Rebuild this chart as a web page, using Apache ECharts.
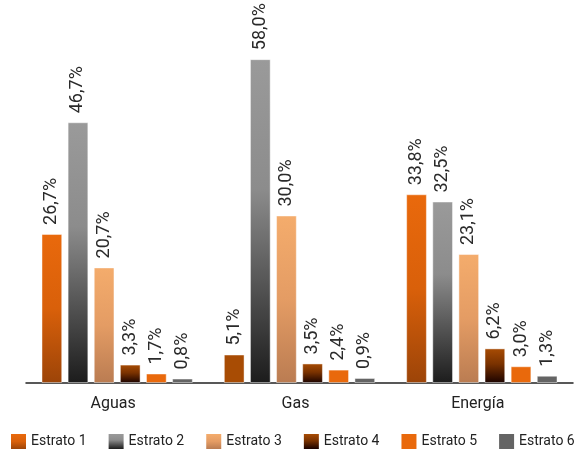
<!DOCTYPE html>
<html>
<head>
<meta charset="utf-8">
<script src="https://cdn.jsdelivr.net/npm/echarts@6/dist/echarts.min.js"></script>
<style>
  html, body { margin: 0; padding: 0; background: #fff; }
  #chart { width: 580px; height: 450px; }
</style>
</head>
<body>
<div id="chart"></div>
<script>
// Service categories and the share of each socio-economic stratum (%)
const categories = ['Aguas', 'Gas', 'Energía'];
const seriesNames = ['Estrato 1', 'Estrato 2', 'Estrato 3', 'Estrato 4', 'Estrato 5', 'Estrato 6'];
const estrato1 = [26.7, 5.1, 33.8];
const estrato2 = [46.7, 58.0, 32.5];
const estrato3 = [20.7, 30.0, 23.1];
const estrato4 = [3.3, 3.5, 6.2];
const estrato5 = [1.7, 2.4, 3.0];
const estrato6 = [0.8, 0.9, 1.3];

const FONT = 'Roboto, "Noto Sans", sans-serif';

function vGrad(stops) {
  return new echarts.graphic.LinearGradient(0, 0, 0, 1,
    stops.map(s => ({ offset: s[0], color: s[1] })));
}

const fills = [
  vGrad([[0, '#E9690C'], [0.5, '#D9600A'], [1, '#9C4408']]),
  vGrad([[0, '#9A9A9A'], [0.4, '#8C8C8C'], [1, '#1C1C1C']]),
  vGrad([[0, '#F4AC6C'], [0.5, '#E49C64'], [1, '#BA7C52']]),
  vGrad([[0, '#A84C04'], [0.45, '#7A3200'], [1, '#1A0200']]),
  '#E9690C',
  '#646464'
];

const values = [estrato1, estrato2, estrato3, estrato4, estrato5, estrato6];

function fmt(p) {
  return p.value.toFixed(1).replace('.', ',') + '%';
}

const series = seriesNames.map((name, i) => ({
  name: name,
  type: 'bar',
  barGap: '26%',
  barCategoryGap: '17%',
  itemStyle: {
    color: fills[i],
    borderColor: 'rgba(255,255,255,0.45)',
    borderWidth: 1
  },
  label: {
    show: true,
    position: 'top',
    rotate: 90,
    align: 'left',
    verticalAlign: 'middle',
    distance: 9,
    formatter: fmt,
    fontFamily: FONT,
    fontSize: 18,
    color: '#2a2a2a'
  },
  data: values[i].map((v, j) => {
    // the Gas value of Estrato 1 is drawn in the dark brown tone
    if (i === 0 && j === 1) {
      return { value: v, itemStyle: { color: '#A84C04' } };
    }
    return v;
  })
}));

const chart = echarts.init(document.getElementById('chart'), null, { renderer: 'canvas' });
chart.setOption({
  animation: false,
  backgroundColor: '#ffffff',
  grid: { left: 26, right: 7, top: 48, bottom: 67 },
  legend: {
    data: seriesNames,
    icon: 'rect',
    left: 11,
    top: 434,
    width: 600,
    padding: 0,
    itemWidth: 15,
    itemHeight: 15,
    itemGap: 22,
    itemStyle: { borderWidth: 0 },
    textStyle: { fontFamily: FONT, fontSize: 14, color: '#222' }
  },
  xAxis: {
    type: 'category',
    data: categories,
    axisLine: { lineStyle: { color: '#222', width: 1.5 } },
    axisTick: { show: false },
    axisLabel: {
      margin: 13,
      fontFamily: FONT,
      fontSize: 16,
      color: '#222',
      padding: [0, 8, 0, 0]
    }
  },
  yAxis: {
    type: 'value',
    min: 0,
    max: 60,
    show: false,
    splitLine: { show: false }
  },
  series: series
});
</script>
</body>
</html>
